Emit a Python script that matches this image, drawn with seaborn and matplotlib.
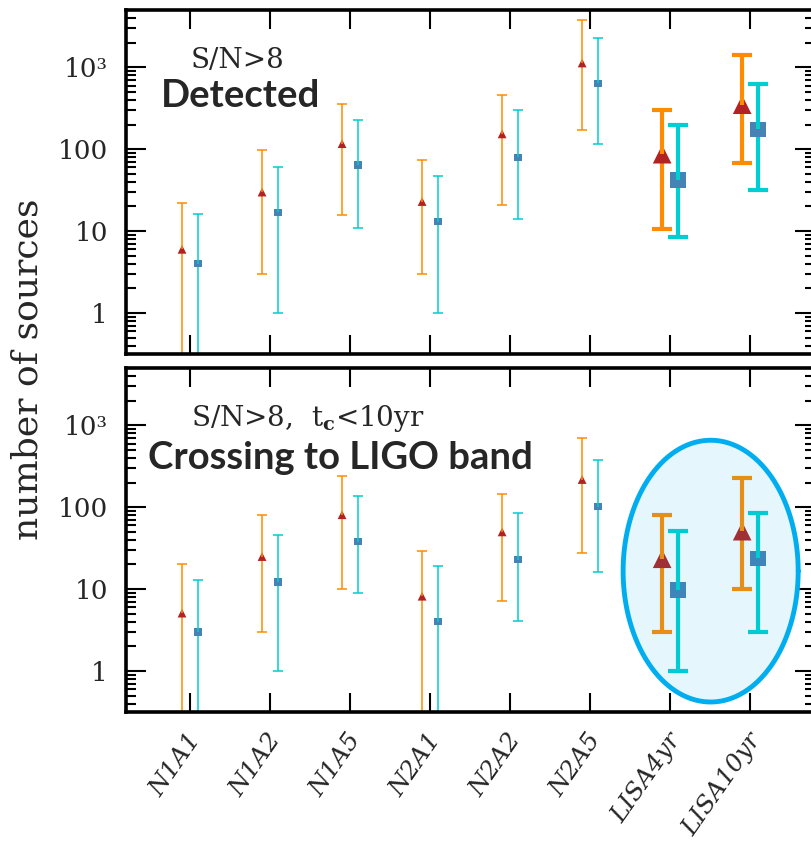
import numpy as np
import pandas as pd
import matplotlib
matplotlib.use("Agg")
import matplotlib.pyplot as plt
import matplotlib.ticker as mticker
import matplotlib.transforms as mtransforms
import seaborn as sns

# ---------------------------------------------------------------- data
models = ["N1A1", "N1A2", "N1A5", "N2A1", "N2A2", "N2A5", "LISA4yr", "LISA10yr"]
ytick_vals = [1, 10, 100, 1000]
ytick_labels = ["1", "10", "100", "10³"]

# S/N > 8 : detected sources (a lower bound of 0 runs off the axis)
det_tri = [6.0, 30, 117, 23, 154, 1130, 87, 350]
det_tri_lo = [0, 3.0, 15.8, 3.0, 20.7, 172, 10.7, 68]
det_tri_hi = [22, 98, 357, 74, 465, 3740, 302, 1410]
det_sq = [4.0, 17, 64, 13, 80, 640, 42, 175]
det_sq_lo = [0, 1.0, 10.8, 1.0, 13.9, 117, 8.6, 31.6]
det_sq_hi = [16, 61, 230, 47, 302, 2300, 195, 626]

# S/N > 8 and t_c < 10 yr : sources crossing into the LIGO band
cross_tri = [5.1, 25, 81, 8.2, 50, 218, 23.5, 51]
cross_tri_lo = [0, 3.0, 10, 0, 7.1, 27.5, 3.0, 9.9]
cross_tri_hi = [20, 81, 241, 29, 147, 694, 81, 230]
cross_sq = [3.0, 12.2, 38, 4.0, 23, 102, 9.8, 23.7]
cross_sq_lo = [0, 1.0, 9.0, 0, 4.1, 16, 1.0, 3.0]
cross_sq_hi = [13, 45.6, 139, 19, 86, 378, 51.5, 85]

# ---------------------------------------------------------------- style
sns.set_style("ticks")
plt.rcParams["font.family"] = ["DejaVu Serif"]
plt.rcParams["mathtext.fontset"] = "dejavuserif"

ORANGE = "#FF8C00"
CYAN = "#00CED1"
RED = "#B22222"
BLUE = "#4682B4"
RING = "#00AEEF"
YMIN, YMAX = 10 ** -0.5, 10 ** 3.7

fig = plt.figure(figsize=(8.11, 8.41), dpi=100)
ax_top = fig.add_axes([0.15536, 0.57907, 0.84957, 0.40904])
ax_bot = fig.add_axes([0.15536, 0.15339, 0.84957, 0.40904])


def error_bars(ax, xs, val, lo, hi, big, color):
    for x, v, l, h, b in zip(xs, val, lo, hi, big):
        lw = 3.0 if b else 1.1
        cap = 14.5 if b else 7.2
        l_draw = l if l > 0 else YMIN / 10
        ax.vlines(x, l_draw, v, color=color, lw=lw, zorder=2)
        ax.vlines(x, v, h, color=color, lw=lw, zorder=4)
        ax.plot([x], [h], ls="none", marker="_", ms=cap, mew=lw,
                color=color, zorder=4)
        if l > 0:
            ax.plot([x], [l], ls="none", marker="_", ms=cap, mew=lw,
                    color=color, zorder=2)


def draw_panel(ax, tri, tri_lo, tri_hi, sq, sq_lo, sq_hi):
    idx = np.arange(len(models))
    big = [m.startswith("LISA") for m in models]
    band = ["large" if b else "small" for b in big]
    df_tri = pd.DataFrame({"x": idx - 0.1, "n": tri, "band": band})
    df_sq = pd.DataFrame({"x": idx + 0.1, "n": sq, "band": band})

    error_bars(ax, df_tri["x"], tri, tri_lo, tri_hi, big, ORANGE)
    error_bars(ax, df_sq["x"], sq, sq_lo, sq_hi, big, CYAN)

    sns.scatterplot(data=df_tri, x="x", y="n", size="band",
                    sizes={"small": 40, "large": 180}, marker="^",
                    color=RED, linewidth=0, legend=False, ax=ax, zorder=3)
    sns.scatterplot(data=df_sq, x="x", y="n", size="band",
                    sizes={"small": 28, "large": 125}, marker="s",
                    color=BLUE, linewidth=0, legend=False, ax=ax, zorder=3)

    ax.set_yscale("log")
    ax.set_ylim(YMIN, YMAX)
    ax.set_xlim(-0.8, 7.81)
    ax.set_xlabel("")
    ax.set_ylabel("")
    ax.yaxis.set_major_locator(mticker.FixedLocator(ytick_vals))
    ax.yaxis.set_major_formatter(mticker.FixedFormatter(ytick_labels))
    ax.yaxis.set_minor_locator(
        mticker.LogLocator(base=10, subs=np.arange(2, 10), numticks=20))
    ax.yaxis.set_minor_formatter(mticker.NullFormatter())
    ax.set_xticks(idx)
    ax.xaxis.set_minor_locator(mticker.NullLocator())
    ax.tick_params(axis="both", which="both", direction="in",
                   top=True, right=True, color="black")
    ax.tick_params(axis="y", which="major", length=14.4, width=1.5,
                   labelsize=19, pad=13)
    ax.tick_params(axis="y", which="minor", length=7.2, width=1.5)
    ax.tick_params(axis="x", which="major", length=14, width=1.5, pad=12)
    for s in ax.spines.values():
        s.set_linewidth(2.6)
        s.set_color("black")
        s.set_visible(True)


draw_panel(ax_top, det_tri, det_tri_lo, det_tri_hi, det_sq, det_sq_lo, det_sq_hi)
draw_panel(ax_bot, cross_tri, cross_tri_lo, cross_tri_hi,
           cross_sq, cross_sq_lo, cross_sq_hi)

ax_top.tick_params(axis="x", labelbottom=False)
ax_bot.set_xticks(np.arange(len(models)))
ax_bot.set_xticklabels(models, rotation=55, ha="right", va="top",
                       fontsize=18, fontstyle="italic")
shift = mtransforms.ScaledTranslation(0.16, 0, fig.dpi_scale_trans)
for lab in ax_bot.get_xticklabels():
    lab.set_transform(lab.get_transform() + shift)

# highlight the LISA results in the lower panel
t = np.linspace(0, 2 * np.pi, 400)
ex = 6.506 + 1.094 * np.cos(t)
ey = 10 ** (1.22 + 1.598 * np.sin(t))
ax_bot.fill(ex, ey, facecolor=RING, alpha=0.1, edgecolor="none", zorder=5)
ax_bot.plot(ex, ey, color=RING, lw=3.5, zorder=6)

# panel annotations
ax_top.text(0.0943, 0.8314, "S/N>8", transform=ax_top.transAxes,
            fontsize=20, ha="left", va="baseline")
ax_top.text(0.1669, 0.718, "Detected", transform=ax_top.transAxes,
            fontsize=27.5, fontweight="bold", family=["Lato", "DejaVu Sans"],
            ha="center", va="baseline")
ax_bot.text(0.0943, 0.8323, r"S/N>8,  t$_{\mathbf{c}}$<10yr",
            transform=ax_bot.transAxes, fontsize=20, ha="left", va="baseline")
ax_bot.text(0.0319, 0.7064, "Crossing to LIGO band", transform=ax_bot.transAxes,
            fontsize=27.5, fontweight="bold", family=["Lato", "DejaVu Sans"],
            ha="left", va="baseline")

fig.text(28 / 811, 1 - 369 / 841, "number of sources", rotation=90,
         fontsize=26, ha="center", va="center")

fig.savefig("out.png", dpi=100)
